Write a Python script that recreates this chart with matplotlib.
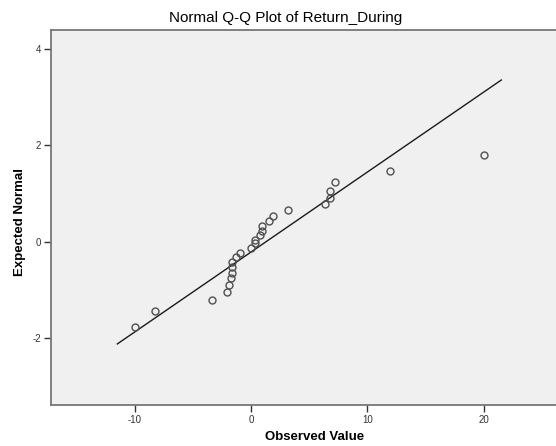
import matplotlib
matplotlib.use('Agg')
import matplotlib.pyplot as plt

observed = [-10.0, -8.3, -3.4, -2.1, -1.9, -1.7, -1.65, -1.62, -1.62, -1.3, -1.0,
            0.0, 0.34, 0.37, 0.75, 0.97, 0.97, 1.57, 1.86, 3.2, 6.36, 6.8, 6.8,
            7.2, 11.95, 20.0]
expected = [-1.78, -1.45, -1.22, -1.05, -0.90, -0.76, -0.65, -0.53, -0.43, -0.33,
            -0.23, -0.14, -0.04, 0.04, 0.13, 0.22, 0.33, 0.42, 0.53, 0.65, 0.78,
            0.90, 1.06, 1.23, 1.46, 1.80]

# reference line ends
line_x = [-11.5, 21.5]
line_y = [-2.13, 3.36]

x_ticks = [-10, 0, 10, 20]
y_ticks = [-2, 0, 2, 4]

plt.rcParams['font.family'] = ['Liberation Sans', 'DejaVu Sans']
plt.rcParams['axes.unicode_minus'] = False

fig = plt.figure(figsize=(5.56, 4.46), dpi=100)
ax = fig.add_axes([51 / 556, 1 - 405 / 446, 1 - 51 / 556, (405 - 30) / 446])
ax.set_facecolor('#f0f0f0')

ax.plot(line_x, line_y, color='#1a1a1a', lw=1.0)
ax.plot(observed, expected, 'o', ms=5, mfc='none', mec='#505050', mew=1.0)

ax.set_xlim(-17.2, 26.2)
ax.set_ylim(-3.4, 4.4)
ax.set_xticks(x_ticks)
ax.set_yticks(y_ticks)
ax.tick_params(direction='out', length=5, width=1, color='#333333',
               labelsize=7, labelcolor='#333333', pad=2)

for s in ['left', 'top', 'bottom']:
    ax.spines[s].set_color('#777777')
    ax.spines[s].set_linewidth(1.3)
ax.spines['right'].set_visible(False)

fig.text(286 / 556, 1 - 18 / 446, 'Normal Q-Q Plot of Return_During',
         ha='center', va='center', fontsize=11)
fig.text(315 / 556, 1 - 437 / 446, 'Observed Value', ha='center', va='center',
         fontsize=9.5, fontweight='bold')
fig.text(20 / 556, 1 - 222 / 446, 'Expected Normal', ha='center', va='center',
         rotation=90, fontsize=9.5, fontweight='bold')

fig.savefig('out.png', dpi=100, facecolor='white')
